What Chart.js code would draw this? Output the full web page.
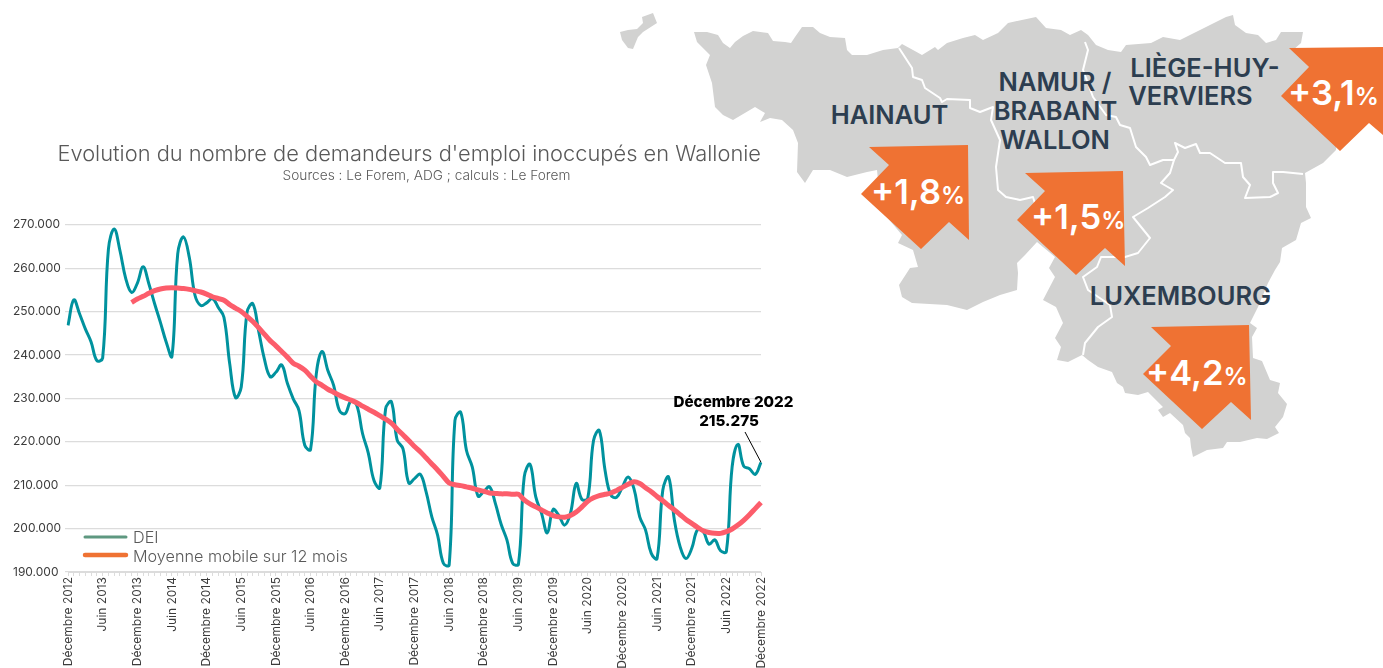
<!DOCTYPE html>
<html lang="fr">
<head>
<meta charset="utf-8">
<title>Demandeurs d'emploi en Wallonie</title>
<script src="https://cdn.jsdelivr.net/npm/chart.js@4"></script>
<style>
  html, body { margin: 0; padding: 0; background: #fff; overflow: hidden; }
  #stage { position: relative; width: 1383px; height: 668px; overflow: hidden; }
  #map { position: absolute; left: 0; top: 0; }
  #usageChart { position: absolute; left: 0; top: 0; }
  .region { font: 600 25.5px Inter, sans-serif; fill: #2d3e50; text-anchor: middle; }
  .pct { font: 600 34.5px Inter, sans-serif; fill: #fff; }
  .pct tspan { font-size: 24px; }
</style>
</head>
<body>
<div id="stage">
  <svg id="map" width="1383" height="668" viewBox="0 0 1383 668">
    <g fill="#d2d2d1">
      <polygon points="620,32 628,30 637,29 643,23 642,17 653,13 657,23 643,32 638,37 633,49 628,48 622,40"/>
      <polygon points="694,32 707,32 718,35 723,43 730,48 735,42 743,36 753,31 768,33 773,41 785,42 791,43 795,37 802,27 813,27 820,33 830,37 845,38 847,50 852,55 867,55 883,50 898,48 902,44 913,50 922,55 935,47 938,50 947,43 963,38 975,35 983,40 998,33 1008,23 1036,17 1046,28 1061,30 1070,35 1081,30 1088,35 1096,45 1108,50 1121,52 1126,45 1151,43 1163,37 1180,40 1196,32 1210,25 1226,17 1233,15 1235,25 1246,33 1258,35 1266,43 1276,40 1281,32 1303,32 1301,43 1293,50 1340,100 1336,150 1323,163 1305,173 1306,183 1306,207 1311,218 1301,223 1296,240 1282,248 1280,262 1275,270 1268,283 1258,307 1250,323 1257,328 1252,337 1253,358 1262,361 1270,380 1280,383 1278,393 1287,404 1283,417 1275,427 1279,433 1267,439 1257,438 1240,442 1227,442 1223,448 1207,450 1193,457 1191,447 1190,438 1185,433 1183,425 1170,413 1163,417 1158,410 1163,407 1148,392 1138,395 1125,393 1123,387 1117,383 1112,372 1098,367 1088,360 1082,355 1068,362 1057,360 1061,347 1055,338 1063,323 1056,307 1043,300 1055,277 1049,268 1055,257 1037,242 1025,255 1017,263 1018,273 1017,290 1000,295 983,302 967,310 947,305 912,303 902,297 899,285 910,268 918,267 913,250 898,243 902,235 881,210 877,170 867,172 847,177 830,170 813,170 805,183 797,172 798,143 793,130 782,120 770,118 760,122 765,113 755,107 733,120 723,115 715,107 712,83 706,65 710,55 697,42"/>
    </g>
    <g fill="none" stroke="#fff" stroke-width="2" stroke-linejoin="round">
      <polyline points="899,48 912,68 913,77 922,80 925,88 940,98 942,102 947,99 970,100 970,108 980,112 993,107 991,120 1000,140 996,167 998,190 1006,197 1020,200 1033,197 1040,220"/>
      <polyline points="1085,42 1088,50 1083,70 1093,97 1106,115 1116,117 1120,125 1130,128 1136,147 1146,157 1150,165 1163,160 1174,160 1178,152 1175,143 1185,148 1196,144 1200,153 1210,153 1225,163 1241,163 1243,177 1250,185 1245,198 1270,197 1278,193 1273,183 1273,172 1283,172 1303,174"/>
      <polyline points="1174,160 1170,173 1161,183 1173,190 1165,197 1148,208 1133,217 1150,238 1138,253 1125,257 1101,257 1097,267 1083,277 1088,290 1110,305 1112,317 1098,327 1085,343 1083,355"/>
    </g>
    <g fill="#ef7233">
      <polygon points="869,147 968,145 969,240 949,222 921,249 861,194 889,165"/>
      <polygon points="1025,173 1123,171 1125,266 1105,248 1076,275 1017,220 1045,191"/>
      <polygon points="1289,48 1383,47 1383,135 1369,123 1340,151 1281,96 1309,67"/>
      <polygon points="1151,327 1249,325 1251,420 1231,402 1202,429 1143,374 1171,346"/>
    </g>
    <text class="region" x="889.5" y="124">HAINAUT</text>
    <text class="region" x="1055" y="91">NAMUR /</text>
    <text class="region" x="1055.5" y="120">BRABANT</text>
    <text class="region" x="1055" y="149">WALLON</text>
    <text class="region" x="1205" y="77">LIÈGE-HUY-</text>
    <text class="region" x="1190.5" y="105">VERVIERS</text>
    <text class="region" x="1180.5" y="305">LUXEMBOURG</text>
    <text class="pct" x="871" y="204">+1,8<tspan>%</tspan></text>
    <text class="pct" x="1031" y="229">+1,5<tspan>%</tspan></text>
    <text class="pct" x="1288" y="105">+3,1<tspan>%</tspan></text>
    <text class="pct" x="1146" y="385">+4,2<tspan>%</tspan></text>
  </svg>
  <canvas id="usageChart" width="818" height="668"></canvas>
</div>
<script>
// Mois : décembre 2012 -> décembre 2022
const monthNames = ['Décembre', 'Janvier', 'Février', 'Mars', 'Avril', 'Mai', 'Juin', 'Juillet', 'Août', 'Septembre', 'Octobre', 'Novembre'];
const months = [];
for (let i = 0; i <= 120; i++) {
    const year = 2012 + Math.ceil(i / 12);
    months.push(monthNames[i % 12] + ' ' + year);
}

// DEI
const dei = [
    246800, 252700, 249500, 246000, 243000, 238700, 239300, 264400, 269000, 264000, 257600, 254400,
    256500, 260300, 256400, 251800, 247500, 243000, 239700, 263300, 267200, 262500, 253700, 251400,
    252000, 253000, 251000, 248700, 238000, 230200, 232600, 249800, 251800, 245600, 239100, 235000,
    236000, 237700, 233400, 229900, 227200, 219200, 218200, 235700, 240800, 236400, 233000, 227200,
    226500, 229400, 228400, 221900, 217400, 211000, 209400, 227600, 229200, 220400, 218400, 210500,
    211500, 212500, 208500, 202700, 198500, 192000, 191600, 224900, 226800, 218000, 214200, 207500,
    208500, 209600, 205800, 201000, 197400, 192000, 191800, 211900, 214800, 207300, 203500, 199000,
    204400, 203000, 200800, 203500, 210400, 206700, 207000, 220300, 222600, 213400, 207700, 207200,
    209600, 211900, 209200, 202700, 199700, 194300, 193100, 208900, 211900, 202000, 195800, 193100,
    195400, 199700, 199300, 196400, 197400, 194900, 194700, 214200, 219400, 214400, 213800, 212500,
    215275
];

// Moyenne mobile sur 12 mois (starts after the first 11 months)
const moyenne = [
    null, null, null, null, null, null, null, null, null, null, null, 252100,
    252900, 253500, 254200, 254800, 255200, 255400, 255500, 255400, 255300, 255100, 254800, 254500,
    254000, 253400, 253000, 252600, 251600, 250800, 250000, 248900, 247700, 246300, 244800, 243300,
    242100, 240800, 239500, 238100, 237400, 236500, 235100, 233800, 233000, 232100, 231400, 230700,
    230100, 229600, 229000, 228200, 227500, 226800, 226000, 225200, 224300, 222900, 221600, 220300,
    218900, 217700, 216300, 214900, 213500, 212000, 210500, 210100, 209900, 209600, 209300, 208900,
    208600, 208200, 208100, 208000, 208000, 207900, 207900, 206600, 205700, 205000, 204300, 203600,
    203000, 202700, 202600, 203000, 203800, 205000, 206300, 207100, 207600, 207900, 208200, 208800,
    209500, 210200, 210800, 210400, 209400, 208500, 207400, 206400, 205300, 204300, 203200, 202100,
    201200, 200300, 199500, 199100, 198900, 198900, 199300, 199900, 200800, 201900, 203200, 204600,
    206000
];

const FONT = 'Inter, sans-serif';
const GRID = '#dcdcdc';

// Legend, subtitle and the December 2022 callout
const extras = {
    id: 'extras',
    afterDraw(chart) {
        const { ctx, scales: { x, y } } = chart;
        ctx.save();

        ctx.fillStyle = '#595959';
        ctx.font = '300 13.7px ' + FONT;
        ctx.textAlign = 'center';
        ctx.textBaseline = 'middle';
        ctx.fillText("Sources : Le Forem, ADG ; calculs : Le Forem", 426.5, 176);

        // legend
        ctx.lineCap = 'round';
        ctx.strokeStyle = '#5e9880';
        ctx.lineWidth = 3;
        ctx.beginPath(); ctx.moveTo(85, 537); ctx.lineTo(126, 537); ctx.stroke();
        ctx.strokeStyle = '#ef7233';
        ctx.lineWidth = 4.5;
        ctx.beginPath(); ctx.moveTo(85, 555); ctx.lineTo(126, 555); ctx.stroke();
        ctx.font = '300 16.2px ' + FONT;
        ctx.textAlign = 'left';
        ctx.fillText('DEI', 133, 538);
        ctx.fillText('Moyenne mobile sur 12 mois', 133, 557);

        // callout
        const lastX = x.getPixelForValue(dei.length - 1);
        const lastY = y.getPixelForValue(dei[dei.length - 1]);
        ctx.strokeStyle = '#000';
        ctx.lineWidth = 1;
        ctx.lineCap = 'butt';
        ctx.beginPath(); ctx.moveTo(745, 432); ctx.lineTo(lastX, lastY); ctx.stroke();
        ctx.fillStyle = '#000';
        ctx.font = '800 15.2px ' + FONT;
        ctx.textAlign = 'center';
        ctx.fillText('Décembre 2022', 733.5, 402);
        ctx.fillText('215.275', 729, 421);

        ctx.restore();
    }
};

const chart = new Chart(document.getElementById('usageChart').getContext('2d'), {
    type: 'line',
    data: {
        labels: months,
        datasets: [{
            label: 'DEI',
            data: dei,
            borderColor: '#00929e',
            borderWidth: 3,
            pointRadius: 0,
            tension: 0.4,
            order: 2
        }, {
            label: 'Moyenne mobile sur 12 mois',
            data: moyenne,
            borderColor: '#fc5d6b',
            borderWidth: 5,
            pointRadius: 0,
            tension: 0.3,
            order: 1
        }]
    },
    options: {
        responsive: false,
        animation: false,
        layout: { padding: { left: 13, right: 57 } },
        plugins: {
            legend: { display: false },
            tooltip: { enabled: false },
            title: {
                display: true,
                align: 'end',
                text: "Evolution du nombre de demandeurs d'emploi inoccupés en Wallonie",
                color: '#595959',
                font: { family: FONT, size: 21.85, weight: '300' },
                padding: { top: 141, bottom: 57.5 }
            }
        },
        scales: {
            x: {
                afterFit(scale) { scale.height = 96; },
                grid: { drawOnChartArea: false, tickLength: 4, color: GRID },
                border: { color: GRID },
                ticks: {
                    autoSkip: false,
                    minRotation: 90,
                    maxRotation: 90,
                    padding: 1,
                    color: '#3c3c3c',
                    font: { family: FONT, size: 12 },
                    callback(value, i) { return i % 6 === 0 ? this.getLabelForValue(value) : ''; }
                }
            },
            y: {
                min: 190000,
                max: 270000,
                afterFit(scale) { scale.width = 55; },
                grid: { color: GRID, tickLength: 3, lineWidth: 1.2 },
                border: { display: false },
                ticks: {
                    stepSize: 10000,
                    crossAlign: 'far',
                    color: '#3c3c3c',
                    font: { family: FONT, size: 12 },
                    callback(value) { return String(value / 1000) + '.000'; }
                }
            }
        }
    },
    plugins: [extras]
});
</script>
</body>
</html>
